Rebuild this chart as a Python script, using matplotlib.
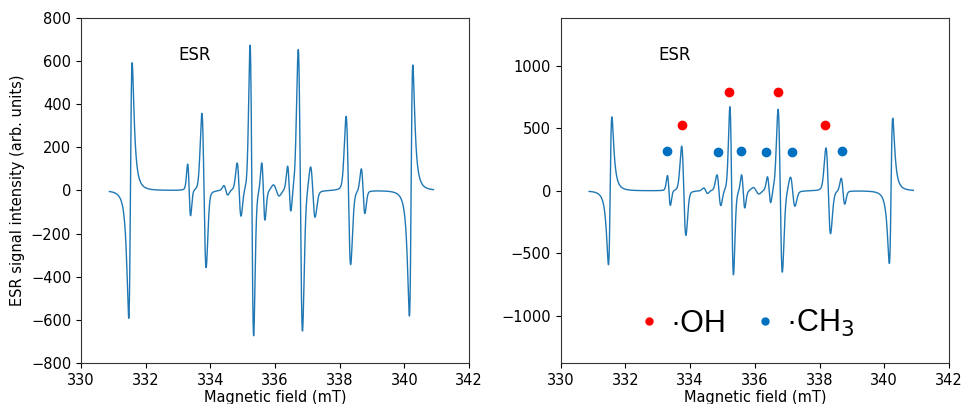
import numpy as np
import matplotlib
matplotlib.use("Agg")
from matplotlib import pyplot as plt
from matplotlib.lines import Line2D

# field range of the sweep (mT)
field_start = 330.88
field_end = 340.90

# lines in the spectrum: centre (mT), peak-to-peak amplitude, peak-to-peak width (mT),
# Lorentzian fraction of the line shape
# negative amplitude = inverted phase (Mn2+ marker lines)
line_center = [331.53, 333.345, 333.805, 334.48, 334.89, 335.285, 335.64, 336.04,
               336.44, 336.785, 337.17, 338.27, 338.725, 340.21]
line_app = [-1185, 240, 716, 45, 250, 1349, 270, 54,
            215, 1307, 240, 688, 209, -1164]
line_width = [0.105, 0.09, 0.13, 0.12, 0.12, 0.11, 0.10, 0.18,
              0.10, 0.13, 0.14, 0.14, 0.11, 0.105]
line_lfrac = [1.0, 0.15, 0.15, 0.15, 0.15, 0.15, 0.15, 0.15,
              0.15, 0.15, 0.15, 0.15, 0.15, 1.0]

# marker positions over the peaks
oh_field = [333.74, 335.19, 336.71, 338.18]
oh_level = [530, 790, 790, 530]
ch3_field = [333.29, 334.85, 335.56, 336.35, 337.14, 338.70]
ch3_level = [322, 312, 317, 307, 312, 322]


def dline(b, b0, app, dbpp, eta):
    # first-derivative pseudo-Voigt line, scaled to its peak-to-peak amplitude
    g = dbpp * np.sqrt(3) / 2
    xl = (b - b0) / g
    lor = -2 * xl / (1 + xl**2)**2 / 0.6495
    xg = (b - b0) / (dbpp / 2)
    gau = -xg * np.exp(-xg**2 / 2) / 0.6065
    f = eta * lor + (1 - eta) * gau
    return f * app / (f.max() - f.min())


field = np.linspace(field_start, field_end, 3000)
signal = np.zeros_like(field)
for c, a, w, e in zip(line_center, line_app, line_width, line_lfrac):
    signal += dline(field, c, a, w, e)

plt.rcParams["font.size"] = 10.5
fig = plt.figure(figsize=(9.64, 4.04), dpi=100)
ax1 = fig.add_axes([0.084, 0.1015, 0.4025, 0.854])
ax2 = fig.add_axes([0.5816, 0.1015, 0.4028, 0.854])

for ax in (ax1, ax2):
    ax.plot(field, signal, color="#1f77b4", lw=1.0)
    ax.set_xlim(330, 342)
    ax.set_xticks(np.arange(330, 343, 2))
    ax.set_xlabel("Magnetic field (mT)", labelpad=1.5)
    ax.text(0.294, 0.893, "ESR", transform=ax.transAxes, fontsize=12,
            ha="center", va="center")
    for s in ax.spines.values():
        s.set_color("#333333")

ax1.set_ylim(-800, 800)
ax1.set_yticks(np.arange(-800, 801, 200))
ax1.set_ylabel("ESR signal intensity (arb. units)")

ax2.set_ylim(-1380, 1385)
ax2.set_yticks([-1000, -500, 0, 500, 1000])
ax2.plot(oh_field, oh_level, "o", color="#ff0000", ms=6, ls="none")
ax2.plot(ch3_field, ch3_level, "o", color="#0070c0", ms=6, ls="none")

handles = [Line2D([], [], marker="o", color="#ff0000", ms=5, ls="none"),
           Line2D([], [], marker="o", color="#0070c0", ms=5, ls="none")]
ax2.legend(handles, ["·OH", "·CH$_3$"], loc="center left",
           bbox_to_anchor=(0.208, 0.1145), ncol=2, frameon=False,
           prop={"family": "Liberation Sans", "size": 22},
           handlelength=0.5, handletextpad=0.45, columnspacing=1.0,
           borderpad=0, borderaxespad=0)

fig.savefig("out.png", dpi=100)
